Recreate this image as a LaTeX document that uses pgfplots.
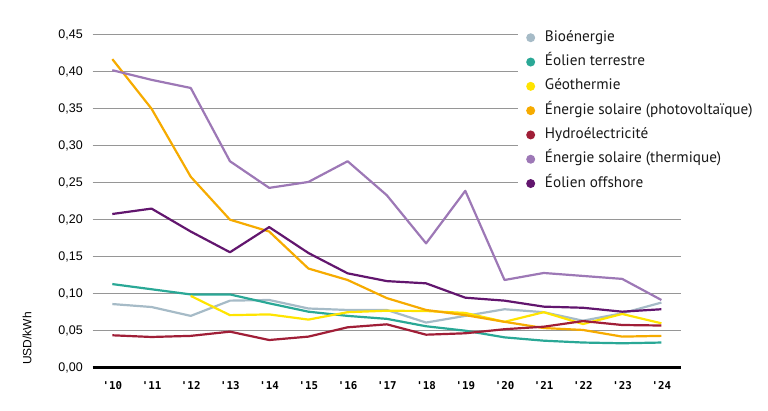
\documentclass[border=0pt]{standalone}
\usepackage{pgfplots}
\pgfplotsset{compat=1.18}
\usepackage{fontspec}
\setmainfont{Liberation Sans}
\newfontfamily\legendfont{PT Sans}
\newfontfamily\yearfont{DejaVu Sans Mono}

\definecolor{bio}{RGB}{166,187,199}
\definecolor{eolter}{RGB}{42,168,150}
\definecolor{geo}{RGB}{255,228,0}
\definecolor{pv}{RGB}{246,171,0}
\definecolor{hydro}{RGB}{160,30,55}
\definecolor{csp}{RGB}{157,120,182}
\definecolor{offshore}{RGB}{98,22,110}
\definecolor{gridgray}{RGB}{150,150,150}
\definecolor{legendtext}{RGB}{25,25,25}

\begin{document}
\begin{tikzpicture}
\path[use as bounding box] (-92.7pt,-43.3pt) rectangle (675.3pt,367.7pt);
\begin{axis}[
  anchor=south west, at={(0pt,0pt)},
  scale only axis, width=588.3pt, height=333pt,
  xmin=-0.5, xmax=14.5, ymin=0, ymax=0.45,
  axis lines=left,
  axis line style={-},
  y axis line style={draw=none},
  x axis line style={black, line width=3pt},
  major tick length=0pt,
  xtick={0,...,14},
  xticklabels={'10,'11,'12,'13,'14,'15,'16,'17,'18,'19,'20,'21,'22,'23,'24},
  xticklabel style={font=\yearfont\bfseries\fontsize{10.8}{12}\selectfont, anchor=north, inner sep=0pt, yshift=-14pt},
  ytick={0,0.05,...,0.46},
  yticklabel style={font=\fontsize{12.5}{14}\selectfont, anchor=east, inner sep=0pt, xshift=-9.7pt,
    /pgf/number format/.cd, fixed, fixed zerofill, precision=2, use comma, assume math mode=true},
  ymajorgrids,
  grid style={gridgray, line width=1.5pt},
  ylabel={USD/kWh},
  ylabel style={font=\fontsize{12}{14}\selectfont, at={(axis description cs:-0.1117,0.0877)}, anchor=center},
  every axis plot/.append style={line width=2.2pt, line join=round, no markers},
  legend cell align=left,
  legend image code/.code={\fill[#1,draw=none] (0pt,0pt) circle (4.5pt);},
  legend style={at={(axis description cs:0.7229,1.026)}, anchor=north west, draw=none, fill=white,
    font=\legendfont\fontsize{15.2}{17}\selectfont, text=legendtext, inner xsep=8pt, inner ysep=4pt,
    nodes={inner sep=0pt, text height=11pt, text depth=4pt},
    row sep=9.3pt, column sep=9.8pt},
]
% Bioénergie
\addplot[bio] coordinates {(0,0.086)(1,0.082)(2,0.070)(3,0.0906)(4,0.0915)(5,0.080)(6,0.078)(7,0.078)(8,0.061)(9,0.070)(10,0.079)(11,0.075)(12,0.0635)(13,0.0735)(14,0.088)};
\addlegendentry{Bioénergie}
% Éolien terrestre
\addplot[eolter] coordinates {(0,0.113)(1,0.106)(2,0.099)(3,0.099)(4,0.087)(5,0.0757)(6,0.070)(7,0.066)(8,0.056)(9,0.050)(10,0.041)(11,0.0365)(12,0.034)(13,0.033)(14,0.034)};
\addlegendentry{Éolien terrestre}
% Géothermie
\addplot[geo] coordinates {(2,0.097)(3,0.071)(4,0.072)(5,0.065)(6,0.075)(7,0.077)(8,0.0766)(9,0.074)(10,0.062)(11,0.075)(12,0.059)(13,0.0726)(14,0.060)};
\addlegendentry{Géothermie}
% Énergie solaire (photovoltaïque)
\addplot[pv] coordinates {(0,0.417)(1,0.350)(2,0.258)(3,0.200)(4,0.184)(5,0.134)(6,0.1185)(7,0.094)(8,0.078)(9,0.071)(10,0.062)(11,0.0536)(12,0.051)(13,0.042)(14,0.043)};
\addlegendentry{Énergie solaire (photovoltaïque)}
% Hydroélectricité
\addplot[hydro] coordinates {(0,0.0438)(1,0.0415)(2,0.043)(3,0.0487)(4,0.0374)(5,0.042)(6,0.0546)(7,0.0586)(8,0.0446)(9,0.0465)(10,0.052)(11,0.0554)(12,0.063)(13,0.0577)(14,0.057)};
\addlegendentry{Hydroélectricité}
% Énergie solaire (thermique)
\addplot[csp] coordinates {(0,0.402)(1,0.389)(2,0.378)(3,0.279)(4,0.243)(5,0.251)(6,0.279)(7,0.233)(8,0.168)(9,0.239)(10,0.1185)(11,0.128)(12,0.124)(13,0.120)(14,0.0915)};
\addlegendentry{Énergie solaire (thermique)}
% Éolien offshore
\addplot[offshore] coordinates {(0,0.2077)(1,0.215)(2,0.184)(3,0.156)(4,0.190)(5,0.155)(6,0.1275)(7,0.117)(8,0.114)(9,0.0946)(10,0.0906)(11,0.0825)(12,0.081)(13,0.0757)(14,0.079)};
\addlegendentry{Éolien offshore}
\end{axis}
\end{tikzpicture}
\end{document}
